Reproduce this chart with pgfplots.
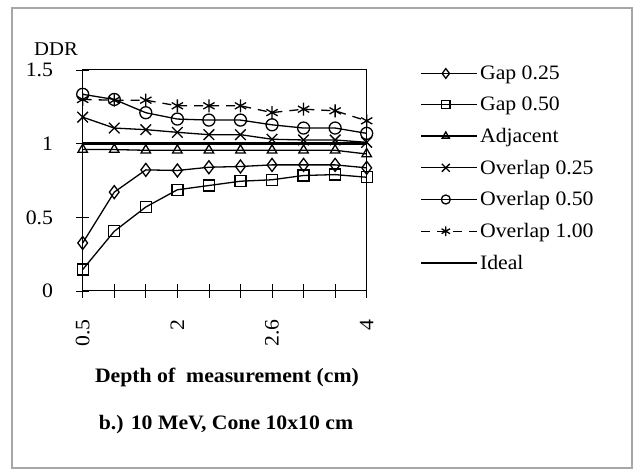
\documentclass[border=0pt]{standalone}
\usepackage{fontspec}
\setmainfont{Liberation Serif}[FakeStretch=1.06]
\usepackage{pgfplots}
\pgfplotsset{compat=1.18}
\begin{document}
\begin{tikzpicture}
\useasboundingbox (0,0) rectangle (634bp,471bp);
\fill[white] (0,0) rectangle (634bp,471bp);
\draw[gray!70, line width=1.6bp] (12bp,3bp) rectangle (632bp,463bp);
\begin{axis}[
  at={(82.7bp,180bp)}, anchor=south west,
  scale only axis, width=284bp, height=221bp,
  xmin=0, xmax=9, ymin=0, ymax=1.5,
  xtick={0,1,2,3,4,5,6,7,8,9},
  xticklabels={0.5,,,2,,,2.6,,,4},
  ytick={0,0.5,1,1.5},
  yticklabels={0,0.5,1,1.5},
  tick align=center,
  major tick length=13bp,
  xtick pos=bottom, ytick pos=left,
  axis line style={black, line width=1bp},
  tick style={black, line width=0.8bp},
  /pgf/number format/assume math mode=true,
  tick label style={font=\fontsize{20.5bp}{22bp}\selectfont},
  xticklabel style={rotate=90, anchor=east, inner sep=0pt},
  xticklabel shift=22bp,
  yticklabel style={anchor=east, inner sep=0pt},
  yticklabel shift=23bp,
  every axis plot/.append style={black, line width=1.3bp},
  legend style={at={(axis description cs:1.187,1.026)}, anchor=north west,
    draw=none, fill=none, inner sep=0pt, row sep=13bp,
    font=\fontsize{20.5bp}{22bp}\selectfont,
    nodes={inner sep=1.5bp}},
  legend cell align=left,
  legend image code/.code={
    \draw[mark repeat=2, mark phase=2, every mark/.append style={scale=0.75}]
      plot coordinates {(0bp,0bp) (24.5bp,0bp) (49bp,0bp)};
    \path (0bp,0bp) -- (56bp,0bp);
  },
  clip=false,
]
\addplot[mark=diamond, mark size=6.5bp, mark options={fill=white, solid}] coordinates {
 (0,0.326) (1,0.671) (2,0.822) (3,0.818) (4,0.840) (5,0.845) (6,0.856) (7,0.856) (8,0.856) (9,0.836)};
\addlegendentry{Gap 0.25}
\addplot[mark=square, mark size=5.5bp, mark options={fill=white, solid}] coordinates {
 (0,0.146) (1,0.405) (2,0.570) (3,0.687) (4,0.716) (5,0.745) (6,0.755) (7,0.784) (8,0.790) (9,0.772)};
\addlegendentry{Gap 0.50}
\addplot[mark=triangle, mark size=5.5bp, mark options={fill=white, solid}] coordinates {
 (0,0.96) (1,0.96) (2,0.955) (3,0.955) (4,0.955) (5,0.955) (6,0.955) (7,0.955) (8,0.955) (9,0.93)};
\addlegendentry{Adjacent}
\addplot[mark=x, mark size=7.5bp, mark options={solid}] coordinates {
 (0,1.180) (1,1.106) (2,1.095) (3,1.077) (4,1.061) (5,1.061) (6,1.030) (7,1.025) (8,1.025) (9,1.009)};
\addlegendentry{Overlap 0.25}
\addplot[mark=o, mark size=6bp, mark options={fill=white, solid}] coordinates {
 (0,1.335) (1,1.30) (2,1.21) (3,1.167) (4,1.160) (5,1.160) (6,1.128) (7,1.106) (8,1.106) (9,1.070)};
\addlegendentry{Overlap 0.50}
\addplot[mark=asterisk, mark size=6.5bp, dash pattern=on 9bp off 7bp, mark options={solid}] coordinates {
 (0,1.300) (1,1.295) (2,1.295) (3,1.257) (4,1.257) (5,1.257) (6,1.211) (7,1.234) (8,1.223) (9,1.155)};
\addlegendentry{Overlap 1.00}
\addplot[no marks, line width=2.6bp] coordinates {(0,1) (9,1)};
\addlegendentry{Ideal}
\end{axis}
\node[font=\bfseries\fontsize{20.5bp}{22bp}\selectfont] at (227bp,94bp) {Depth of\ \ measurement (cm)};
\node[font=\bfseries\fontsize{20.5bp}{22bp}\selectfont] at (226bp,46bp) {b.) 10 MeV, Cone 10x10 cm};
\node[font=\fontsize{19.5bp}{21bp}\selectfont] at (56bp,422bp) {DDR};
\end{tikzpicture}
\end{document}
